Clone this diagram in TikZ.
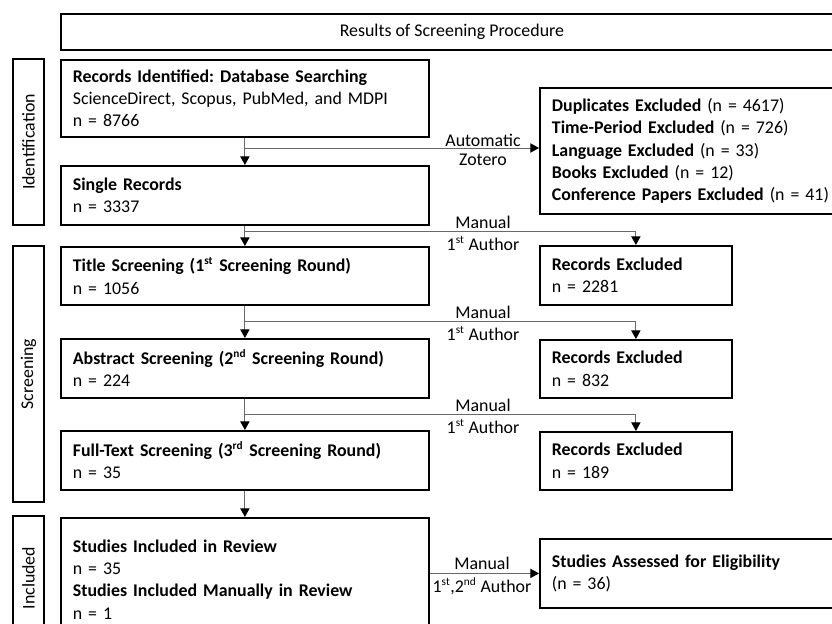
\documentclass[tikz,border=0pt]{standalone}
\usepackage{fontspec}
\setmainfont{Carlito}
\usetikzlibrary{arrows.meta}
\definecolor{linegray}{RGB}{105,105,105}
\newcommand{\sups}[1]{\textsuperscript{\fontsize{8.5}{8.5}\selectfont #1}}
\frenchspacing
\begin{document}
\begin{tikzpicture}[x=0.75pt,y=-0.75pt,
    font=\fontsize{13.4}{16.7}\selectfont,
    box/.style={draw,line width=1.35pt,anchor=north west,align=left,inner xsep=9pt,inner ysep=0pt},
    side/.style={draw,line width=1.35pt,rotate=90,minimum height=23.25pt,inner sep=0pt},
    conn/.style={draw=linegray,line width=0.7pt,-{Triangle[length=6.5pt,width=7pt,fill=black,color=black]}},
    lbl/.style={inner sep=0pt}]
    \useasboundingbox (0,0) rectangle (832,624);
    \clip (0,0) rectangle (832,624);
    % header and phases
    \node[draw,line width=1.35pt,anchor=north west,minimum width=586.5pt,minimum height=27pt,inner sep=0pt] (head) at (60,13) {Results of Screening Procedure};
    \node[side,minimum width=124.5pt] (ident) at (28.5,142) {Identification};
    \node[side,minimum width=192pt] (screen) at (28.5,374) {Screening};
    \node[side,minimum width=93pt] (incl) at (28.5,578) {Included};
    % main column
    \node[box,text width=258pt,minimum height=57.75pt] (rid) at (60,59) {\textbf{Records Identified: Database Searching}\\ScienceDirect, Scopus, PubMed, and MDPI\\n = 8766};
    \node[box,text width=258pt,minimum height=44.25pt] (single) at (60,165) {\textbf{Single Records}\\n = 3337};
    \node[box,text width=258pt,minimum height=43.5pt] (title) at (60,246) {\textbf{Title Screening (1\sups{st} Screening Round)}\\n = 1056};
    \node[box,text width=258pt,minimum height=44.25pt] (abstract) at (60,338) {\textbf{Abstract Screening (2\sups{nd} Screening Round)}\\n = 224};
    \node[box,text width=258pt,minimum height=44.25pt] (fulltext) at (60,430) {\textbf{Full-Text Screening (3\sups{rd} Screening Round)}\\n = 35};
    \node[box,text width=258pt,minimum height=92.25pt] (studies) at (60,517) {\textbf{Studies Included in Review}\\n = 35\\\textbf{Studies Included Manually in Review}\\n = 1};
    % right column
    \node[box,text width=230pt,minimum height=94.5pt] (dupl) at (539,87) {\textbf{Duplicates Excluded} (n = 4617)\\\textbf{Time-Period Excluded} (n = 726)\\\textbf{Language Excluded} (n = 33)\\\textbf{Books Excluded} (n = 12)\\\textbf{Conference Papers Excluded} (n = 41)};
    \node[box,text width=126pt,minimum height=44.25pt] (rex1) at (539,245) {\textbf{Records Excluded}\\n = 2281};
    \node[box,text width=126pt,minimum height=43.5pt] (rex2) at (539,339) {\textbf{Records Excluded}\\n = 832};
    \node[box,text width=126pt,minimum height=43.5pt] (rex3) at (539,431) {\textbf{Records Excluded}\\n = 189};
    \node[box,text width=230pt,minimum height=51.75pt] (assessed) at (539,538) {\textbf{Studies Assessed for Eligibility}\\(n = 36)};
    % connectors
    \coordinate (b1) at (244,148);
    \coordinate (b2) at (244,231);
    \coordinate (b3) at (244,321);
    \coordinate (b4) at (244,414);
    \draw[conn] (rid) -- (single);
    \draw[conn] (single) -- (title);
    \draw[conn] (title) -- (abstract);
    \draw[conn] (abstract) -- (fulltext);
    \draw[conn] (fulltext) -- (studies);
    \draw[conn] (b1) -- (b1 -| dupl.west);
    \draw[conn] (b2) -| (rex1.north);
    \draw[conn] (b3) -| (rex2.north);
    \draw[conn] (b4) -| (rex3.north);
    \draw[conn] (studies.east |- assessed.west) -- (assessed.west);
    % labels
    \node[lbl] (auto) at (483,140) {Automatic};
    \node[lbl] (zot) at (483,160) {Zotero};
    \node[lbl] (man1) at (483,222) {Manual};
    \node[lbl] (aut1) at (483,243) {1\sups{st} Author};
    \node[lbl] (man2) at (483,312) {Manual};
    \node[lbl] (aut2) at (483,333) {1\sups{st} Author};
    \node[lbl] (man3) at (483,405) {Manual};
    \node[lbl] (aut3) at (483,426) {1\sups{st} Author};
    \node[lbl] (man4) at (482,563) {Manual};
    \node[lbl] (aut4) at (482,586) {1\sups{st},2\sups{nd} Author};
\end{tikzpicture}
\end{document}
